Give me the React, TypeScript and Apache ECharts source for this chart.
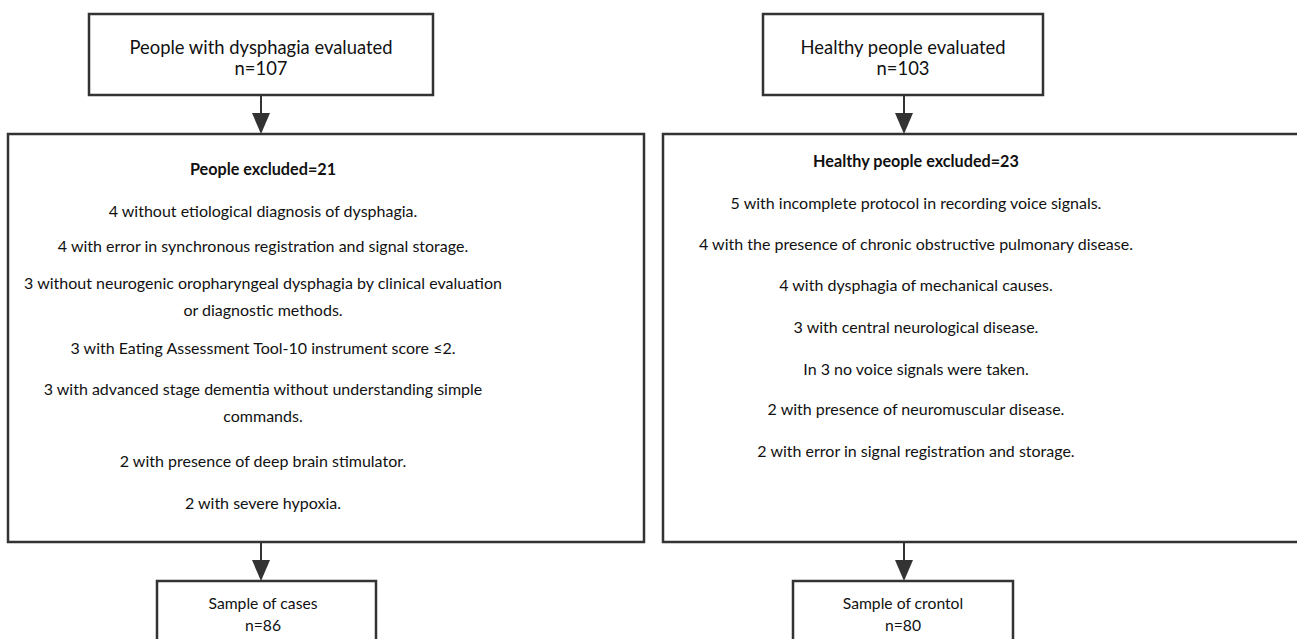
import React, { useEffect, useRef } from "react";
import * as echarts from "echarts";

// ---- Data ----
const groupTitles = ["People with dysphagia evaluated", "Healthy people evaluated"];
const groupEvaluated = [107, 103];
const excludedLabels = ["People excluded", "Healthy people excluded"];
const excludedCounts = [21, 23];
const leftReasons = [
  "4 without etiological diagnosis of dysphagia.",
  "4 with error in synchronous registration and signal storage.",
  "3 without neurogenic oropharyngeal dysphagia by clinical evaluation\nor diagnostic methods.",
  "3 with Eating Assessment Tool-10 instrument score \u22642.",
  "3 with advanced stage dementia without understanding simple\ncommands.",
  "2 with presence of deep brain stimulator.",
  "2 with severe hypoxia.",
];
const rightReasons = [
  "5 with incomplete protocol in recording voice signals.",
  "4 with the presence of chronic obstructive pulmonary disease.",
  "4 with dysphagia of mechanical causes.",
  "3 with central neurological disease.",
  "In 3 no voice signals were taken.",
  "2 with presence of neuromuscular disease.",
  "2 with error in signal registration and storage.",
];
const sampleTitles = ["Sample of cases", "Sample of crontol"];
const sampleCounts = [86, 80];

// ---- Layout ----
const FONT = "Lato";
const STROKE = "#333333";
const TEXT = "#111111";
const LW = 2.5;

const leftReasonY = [210, 245, 282, 347, 388, 460, 502];
const rightReasonY = [202, 243, 284, 326, 368, 408, 450];

function box(x: number, y: number, w: number, h: number) {
  return {
    type: "rect",
    shape: { x, y, width: w, height: h },
    style: { fill: "#ffffff", stroke: STROKE, lineWidth: LW },
  };
}

function txt(s: string, x: number, y: number, size: number, bold = false, lh = 21) {
  return {
    type: "text",
    style: {
      text: s,
      x,
      y,
      align: "center",
      verticalAlign: "middle",
      fontSize: size,
      fontFamily: FONT,
      fontWeight: bold ? "bold" : "normal",
      fill: TEXT,
      lineHeight: lh,
    },
  };
}

function arrow(x: number, y1: number, y2: number) {
  return [
    {
      type: "line",
      shape: { x1: x, y1, x2: x, y2: y2 - 18 },
      style: { stroke: STROKE, lineWidth: 2 },
    },
    {
      type: "polygon",
      shape: { points: [[x - 9, y2 - 21], [x + 9, y2 - 21], [x, y2]] },
      style: { fill: STROKE },
    },
  ];
}

export default function App() {
  const ref = useRef<HTMLDivElement>(null);
  useEffect(() => {
    document.body.style.margin = "0";
    const chart = echarts.init(ref.current!, undefined, { renderer: "svg" });
    const elements: any[] = [];
    // Top boxes
    elements.push(box(89, 14, 344, 81));
    elements.push(txt(groupTitles[0] + "\nn=" + groupEvaluated[0], 261, 57, 18.4, false, 21));
    elements.push(box(763, 14, 280, 81));
    elements.push(txt(groupTitles[1] + "\nn=" + groupEvaluated[1], 903, 57, 18.4, false, 21));
    // Arrows top -> middle
    elements.push(...arrow(261, 95, 134));
    elements.push(...arrow(904, 95, 134));
    // Middle boxes
    elements.push(box(8, 134, 636, 408));
    elements.push(box(663, 134, 660, 408));
    elements.push(txt(excludedLabels[0] + "=" + excludedCounts[0], 263, 168, 16.2, true));
    elements.push(txt(excludedLabels[1] + "=" + excludedCounts[1], 916, 160, 16.2, true));
    leftReasons.forEach((r, i) => {
      const lines = r.split("\n").length;
      elements.push(txt(r, 263, leftReasonY[i] + (lines - 1) * 13.5, 16, false, 27));
    });
    rightReasons.forEach((r, i) => {
      elements.push(txt(r, 916, rightReasonY[i], 16, false, 27));
    });
    // Arrows middle -> bottom
    elements.push(...arrow(261, 542, 581));
    elements.push(...arrow(904, 542, 581));
    // Bottom boxes
    elements.push(box(157, 581, 219, 80));
    elements.push(txt(sampleTitles[0] + "\nn=" + sampleCounts[0], 263, 614, 15.7, false, 22));
    elements.push(box(793, 581, 220, 80));
    elements.push(txt(sampleTitles[1] + "\nn=" + sampleCounts[1], 903, 614, 15.7, false, 22));

    chart.setOption({ animation: false, graphic: { elements } });
    return () => chart.dispose();
  }, []);
  return <div ref={ref} style={{ position: "absolute", left: 0, top: 0, width: 1297, height: 639 }} />;
}
